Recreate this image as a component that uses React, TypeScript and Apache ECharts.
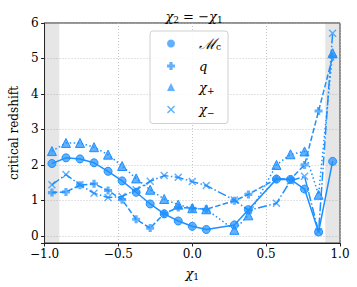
import React, { useEffect, useRef } from "react";
import * as echarts from "echarts";

const xValues = [-0.95, -0.855, -0.76, -0.665, -0.57, -0.475, -0.38, -0.285, -0.19, -0.095, 0, 0.095, 0.19, 0.285, 0.38, 0.475, 0.57, 0.665, 0.76, 0.855, 0.95];
const mcValues = [2.04, 2.2, 2.17, 2.06, 1.82, 1.55, 1.23, 0.9, 0.62, 0.42, 0.27, 0.18, null, 0.31, 0.74, null, 1.6, 1.59, 1.32, 0.11, 2.1];
const qValues = [1.22, 1.24, 1.43, 1.47, 1.28, 1.02, 0.47, 0.22, 0.63, 0.8, 0.78, 0.75, null, 0.99, 1.17, null, 1.61, 1.6, 2.0, 3.52, 5.05];
const chiPlusValues = [2.39, 2.62, 2.62, 2.5, 2.29, 1.97, 1.62, 1.3, 1.04, 0.88, 0.78, 0.75, null, 0.17, 0.58, null, 2.0, 2.3, 2.38, 1.16, 5.15];
const chiMinusValues = [1.44, 1.73, 1.44, 1.2, 1.08, 1.11, 1.3, 1.54, 1.7, 1.65, 1.53, 1.42, null, 1.01, 0.72, null, 0.92, 1.55, 1.68, 0.12, 5.71];
const shadedRanges = [[-1, -0.9], [0.9, 1]];

const BLUE = "#1E90FF";
const FONT = "DejaVu Serif";
const plusPath = "path://M3,0 H7 V3 H10 V7 H7 V10 H3 V7 H0 V3 H3 Z";
const xPath = "path://M0,1.3 L1.3,0 L5,3.7 L8.7,0 L10,1.3 L6.3,5 L10,8.7 L8.7,10 L5,6.3 L1.3,10 L0,8.7 L3.7,5 Z";

const legendLabels: Record<string, string> = {
  Mc: "{m|ℳ}{s|c}",
  q: "{i|q}",
  "chi+": "{i|χ}{s|+}",
  "chi-": "{i|χ}{s|−}",
};

function makeSeries(name: string, values: (number | null)[], symbol: string, size: number, dash: any) {
  return {
    name,
    type: "line",
    data: xValues.map((x, i) => [x, values[i]]),
    connectNulls: true,
    symbol,
    symbolSize: size,
    showAllSymbol: true,
    z: 3,
    lineStyle: { color: BLUE, width: 1.5, type: dash },
    itemStyle: { color: "rgba(30,144,255,0.7)", borderColor: BLUE, borderWidth: symbol.startsWith("path") ? 0 : 1 },
  };
}

export default function App() {
  const ref = useRef<HTMLDivElement>(null);
  useEffect(() => {
    const chart = echarts.init(ref.current!, null, { renderer: "svg" });
    chart.setOption({
      animation: false,
      backgroundColor: "#fff",
      title: {
        text: "{i|χ}{s|2} = −{i|χ}{s|1}",
        left: 189,
        top: 3,
        textAlign: "center",
        textStyle: {
          fontFamily: FONT,
          fontSize: 13,
          fontWeight: "normal",
          color: "#000",
          rich: {
            i: { fontFamily: FONT, fontSize: 13, fontStyle: "italic", lineHeight: 16 },
            s: { fontFamily: FONT, fontSize: 9, verticalAlign: "bottom", lineHeight: 10 },
          },
        },
      },
      grid: { left: 39, right: 17, top: 23, bottom: 44, show: true, borderColor: "#222", borderWidth: 1 },
      legend: {
        orient: "vertical",
        left: 150,
        top: 31,
        padding: [5, 7, 6, 17],
        itemWidth: 8,
        itemHeight: 8,
        itemGap: 8,
        backgroundColor: "rgba(255,255,255,0.85)",
        borderColor: "#d0d0d0",
        borderWidth: 1,
        borderRadius: 3,
        data: [
          { name: "Mc", icon: "circle" },
          { name: "q", icon: plusPath },
          { name: "chi+", icon: "triangle" },
          { name: "chi-", icon: xPath },
        ],
        formatter: (name: string) => legendLabels[name],
        textStyle: {
          fontFamily: FONT,
          fontSize: 13,
          color: "#000",
          padding: [0, 0, 0, 19],
          rich: {
            m: { fontFamily: FONT, fontSize: 15, fontStyle: "italic", lineHeight: 16 },
            i: { fontFamily: FONT, fontSize: 13, fontStyle: "italic", lineHeight: 16 },
            s: { fontFamily: FONT, fontSize: 9, verticalAlign: "bottom", lineHeight: 10 },
          },
        },
        itemStyle: { borderWidth: 0 },
      },
      xAxis: {
        type: "value",
        min: -1,
        max: 1,
        interval: 0.5,
        name: "{i|χ}{s|1}",
        nameLocation: "middle",
        nameGap: 22,
        nameTextStyle: {
          fontFamily: FONT,
          fontSize: 13,
          color: "#000",
          rich: {
            i: { fontFamily: FONT, fontSize: 13, fontStyle: "italic", lineHeight: 16 },
            s: { fontFamily: FONT, fontSize: 9, verticalAlign: "bottom", lineHeight: 10 },
          },
        },
        axisLine: { show: true, onZero: false, lineStyle: { color: "#222", width: 1 } },
        axisTick: { show: true, length: 3.5, lineStyle: { color: "#222" } },
        axisLabel: {
          fontFamily: FONT,
          fontSize: 12,
          color: "#000",
          margin: 5,
          formatter: (v: number) => (v < 0 ? "−" : "") + Math.abs(v).toFixed(1),
        },
        splitLine: { show: true, lineStyle: { color: "#b8b8b8", width: 0.8, type: [1, 2] } },
      },
      yAxis: {
        type: "value",
        min: -0.2,
        max: 6,
        splitNumber: 6,
        name: "critical redshift",
        nameLocation: "middle",
        nameGap: 20,
        nameTextStyle: { fontFamily: FONT, fontSize: 12, color: "#000" },
        axisLine: { show: true, onZero: false, lineStyle: { color: "#222", width: 1 } },
        axisTick: { show: true, length: 3.5, lineStyle: { color: "#222" } },
        axisLabel: {
          fontFamily: FONT,
          fontSize: 12,
          color: "#000",
          margin: 6,
          formatter: (v: number) => (Math.abs(v - Math.round(v)) < 1e-6 ? String(Math.round(v)) : ""),
        },
        splitLine: { show: true, lineStyle: { color: "#b8b8b8", width: 0.8, type: [1, 2] } },
      },
      series: [
        {
          name: "shade",
          type: "line",
          data: [],
          z: 1,
          markArea: {
            silent: true,
            itemStyle: { color: "rgba(128,128,128,0.2)" },
            data: shadedRanges.map((r) => [{ xAxis: r[0] }, { xAxis: r[1] }]),
          },
        },
        makeSeries("Mc", mcValues, "circle", 8, "solid"),
        makeSeries("q", qValues, plusPath, 8, [5.5, 2.4]),
        makeSeries("chi+", chiPlusValues, "triangle", 9, [1.5, 2.5]),
        makeSeries("chi-", chiMinusValues, xPath, 8, [9, 2.4, 1.5, 2.4]),
      ],
    });
    return () => chart.dispose();
  }, []);
  return <div ref={ref} style={{ position: "fixed", left: 0, top: 0, width: 357, height: 287 }} />;
}
